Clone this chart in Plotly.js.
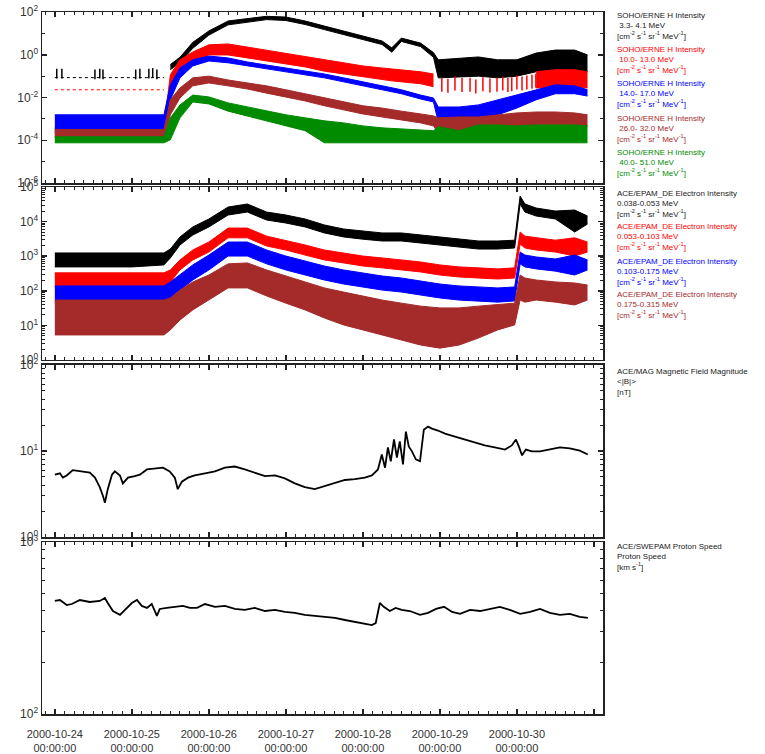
<!DOCTYPE html>
<html><head><meta charset="utf-8">
<script src="https://cdn.plot.ly/plotly-3.0.1.min.js"></script>
<style>body{margin:0;background:#fff}#chart{width:765px;height:754px}</style>
</head><body><div id="chart"></div>
<script>
// ---- times are hours after 2000-10-24 00:00:00 UT ----
// Panel 1: SOHO/ERNE H intensity bands (upper / lower envelope)
const ERNE_H = [0,12,24,34,36,39,43,48,54,60,66,72,78,84,90,96,102,105,108,114,118,119.5,126,132,138,144,150,156,162,166];
const H1_HI = [null,null,null,null,0.35,0.76,3.8,13,38,47,63,58,38,22,12.6,7.6,4.4,2.1,6.0,3.5,1.26,0.58,0.71,0.79,0.58,0.58,1.2,1.66,1.66,0.98];
const H1_LO = [null,null,null,null,0.20,0.44,2.0,8.3,25,32,44,40,26,15,8.9,5.2,3.0,1.32,4.2,2.4,0.76,0.083,0.091,0.10,0.083,0.10,0.16,0.195,0.16,0.16];
const H2_HI = [3.8e-4,3.8e-4,3.8e-4,3.8e-4,0.115,0.58,1.35,2.9,3.2,2.3,1.66,1.2,0.87,0.58,0.42,0.30,0.24,0.22,0.195,0.16,0.126,null,null,null,null,null,0.16,0.2,0.2,0.16];
const H2_LO = [1.45e-4,1.45e-4,1.45e-4,1.45e-4,0.039,0.195,0.46,0.98,0.98,0.71,0.51,0.37,0.27,0.17,0.126,0.091,0.066,0.06,0.054,0.044,0.032,null,null,null,null,null,0.028,0.03,0.03,0.028];
const H3_HI = [0.00155,0.00155,0.00155,0.00155,0.039,0.24,0.58,0.87,0.71,0.46,0.33,0.24,0.17,0.126,0.083,0.054,0.035,0.028,0.023,0.013,0.0095,0.0036,0.0036,0.0045,0.0078,0.013,0.023,0.039,0.035,0.023];
const H3_LO = [0.00022,0.00022,0.00022,0.00022,0.0078,0.083,0.30,0.51,0.42,0.30,0.22,0.16,0.115,0.083,0.054,0.035,0.023,0.018,0.015,0.0085,0.0062,0.00072,0.00072,0.00089,0.00155,0.0032,0.0078,0.015,0.015,0.0117];
const H4_HI = [0.00032,0.00032,0.00032,0.00032,0.0078,0.028,0.083,0.10,0.066,0.048,0.035,0.023,0.015,0.0095,0.0062,0.0041,0.0032,0.0028,0.0023,0.0017,0.00138,0.00112,0.00123,0.00123,0.00155,0.0019,0.0021,0.0021,0.0019,0.00155];
const H4_LO = [0.000129,0.000129,0.000129,0.000129,0.00155,0.0095,0.035,0.048,0.035,0.025,0.016,0.0107,0.0069,0.0041,0.0026,0.0017,0.00123,0.00105,0.00089,0.00065,0.00047,0.00022,0.00025,0.00028,0.00028,0.00038,0.00047,0.00052,0.00047,0.00047];
const H5_HI = [0.000145,0.000145,0.000145,0.000145,0.00112,0.0045,0.013,0.0107,0.0056,0.0036,0.0023,0.00155,0.00112,0.00081,0.00065,0.00047,0.00038,0.00036,0.00034,0.00031,0.00028,0.00043,0.00028,0.00052,0.00052,0.00047,0.00052,0.00052,0.00052,0.00047];
const H5_LO = [0.000076,0.000076,0.000076,0.000076,0.000105,0.00112,0.0062,0.0050,0.0023,0.00138,0.00081,0.00047,0.00028,0.000076,0.000076,0.000076,0.000076,0.000076,0.000076,0.000076,0.000076,0.000076,0.000076,0.000076,0.000076,0.000076,0.000076,0.000076,0.000076,0.000076];
// sparse 3.3-4.1 MeV points before onset, dotted levels, and sparse 10-13 MeV points after the drop
const H1_PRE_H = [0.6,2.2,12.5,14.0,15.0,25.2,26.5,29.3,30.5,31.8];
const H1_PRE_V = [0.13,0.13,0.12,0.13,0.12,0.12,0.13,0.13,0.14,0.12];
const H1_FLOOR_H = [0,34];
const H1_FLOOR_V = [0.085,0.085];
const H2_PRE_H = [0,34];
const H2_PRE_V = [0.023,0.023];
const H2_POST_H = [120.6,122.5,124.7,126.9,129.4,131.2,133.4,135.6,137.8,139.6,141.2,142.4,144.0,145.6,147.1,148.7,149.9];
const H2_POST_V = [0.04,0.035,0.045,0.038,0.04,0.033,0.042,0.036,0.04,0.045,0.038,0.042,0.05,0.045,0.05,0.055,0.06];

// Panel 2: ACE/EPAM_DE electron intensity bands
const EPAM_H = [0,12,24,34,36,39,43,48,54,60,66,72,78,84,90,96,102,108,114,120,126,132,138,143.3,145,146.5,150,156,162,166];
const E1_HI = [1240,1240,1240,1240,1610,3600,7000,11900,26400,32300,18900,15500,11900,8000,6100,5300,4700,4700,4100,3600,3100,2750,2750,2900,55000,32300,24700,20200,21600,14500];
const E1_LO = [490,490,490,560,890,2110,4100,7000,15500,18900,11100,9100,7000,4700,3600,3100,2750,2750,2410,2110,1850,1610,1610,1730,32300,18900,14500,11900,5000,8500];
const E2_HI = [330,330,330,330,400,780,1510,2570,6500,6500,3800,2900,2110,1510,1240,1010,890,780,680,560,490,460,430,460,5000,3800,3400,2900,3400,2570];
const E2_LO = [129,129,129,129,180,400,780,1320,3400,3400,1970,1510,1080,780,640,520,460,400,350,286,251,234,219,234,2250,1730,1510,1320,1010,1320];
const E3_HI = [138,138,138,138,180,286,560,1080,2570,2570,1510,1010,730,520,400,330,268,234,192,157,138,129,121,129,1320,1080,950,830,1080,780];
const E3_LO = [44,44,44,44,62,105,205,400,1010,1010,600,400,286,205,157,129,105,92,76,62,54,51,47,51,600,490,430,370,286,400];
const E4_HI = [54,54,54,54,62,105,180,286,600,640,400,268,180,121,92,71,54,44,36,32,32,36,39,44,286,234,205,180,168,147];
const E4_LO = [5.3,5.3,5.3,5.3,7.4,14.3,28,54,121,121,71,44,28,16.4,10.3,7.4,5.3,3.8,2.7,2.2,2.7,4.3,7.4,10.3,54,47,54,47,39,54];

// Panel 3: ACE/MAG |B| (nT)
const MAG_H = [0,1.6,2.5,3.7,5.6,7.8,10.9,12.5,14.0,15.0,15.6,16.5,17.8,18.7,20.3,21.2,22.8,24.9,26.5,28.7,31.2,33.7,35.8,37.4,38.3,39.6,41.5,43.6,46.8,49.9,53.0,56.1,59.2,62.3,65.5,68.6,71.7,74.8,77.9,81.0,84.2,87.3,90.4,93.5,96.6,98.8,100.7,101.9,102.9,103.8,104.7,105.7,106.6,107.5,108.5,109.4,110.3,111.3,112.5,113.8,115.0,116.3,117.5,119.4,121.6,124.7,127.8,130.9,134.0,137.1,140.3,142.4,143.7,144.6,145.6,146.8,148.7,151.2,154.3,157.4,160.5,163.6,166.1];
const MAG_B = [5.3,5.5,4.9,5.2,6.0,5.8,5.6,4.9,3.8,3.0,2.5,3.6,5.3,5.8,5.2,4.2,4.9,5.1,5.3,6.1,6.3,6.4,5.8,4.9,3.6,4.4,4.9,5.2,5.5,5.8,6.4,6.6,6.1,5.6,5.1,5.2,4.8,4.2,3.8,3.6,3.9,4.3,4.6,4.7,4.9,5.2,6.1,9.1,6.4,11.0,7.6,13.6,8.4,12.9,7.0,16.8,11.3,9.9,8.0,7.6,17.7,19.2,18.2,17.3,15.9,14.7,13.6,12.5,11.6,11.0,10.4,11.6,13.6,11.3,8.9,10.4,9.9,9.9,10.4,11.0,10.7,10.1,9.1];

// Panel 4: ACE/SWEPAM proton speed (km/s)
const SWE_H = [0,1.6,3.7,5.3,7.8,10.9,14.0,15.6,16.5,18.1,20.3,22.4,24.0,25.6,27.1,28.7,30.2,31.8,32.7,34.9,37.4,39.9,42.1,44.3,46.8,49.9,53.0,56.1,59.2,62.3,65.5,68.6,71.7,74.8,77.9,81.0,84.2,87.3,90.4,93.5,96.6,98.8,100.0,101.3,102.5,104.4,106.2,108.1,110.6,113.8,116.3,118.8,121.3,123.8,126.3,129.4,132.5,135.6,138.7,141.8,145.0,148.1,151.2,154.3,157.4,160.5,163.6,166.1];
const SWE_V = [454,460,430,436,460,448,454,472,442,397,377,414,442,460,425,414,436,372,408,414,420,425,414,414,436,420,425,408,403,414,397,403,392,387,377,372,367,362,352,343,333,329,338,442,420,397,414,403,397,377,387,408,420,392,382,403,397,408,420,403,382,392,408,387,377,382,367,362];

// axis ticks
const X_TICKS = ['2000-10-24','2000-10-25','2000-10-26','2000-10-27','2000-10-28','2000-10-29','2000-10-30','2000-10-31'];
const X_LABELS = ['2000-10-24<br>00:00:00','2000-10-25<br>00:00:00','2000-10-26<br>00:00:00','2000-10-27<br>00:00:00','2000-10-28<br>00:00:00','2000-10-29<br>00:00:00','2000-10-30<br>00:00:00',''];
const Y1_TICKS = [1e-6,1e-4,1e-2,1,100];
const Y1_LABELS = ['10<sup>-6</sup>','10<sup>-4</sup>','10<sup>-2</sup>','10<sup>0</sup>','10<sup>2</sup>'];
const Y2_TICKS = [1,10,100,1000,1e4,1e5];
const Y2_LABELS = ['10<sup>0</sup>','10<sup>1</sup>','10<sup>2</sup>','10<sup>3</sup>','10<sup>4</sup>','10<sup>5</sup>'];
const Y3_TICKS = [1,10,100];
const Y3_LABELS = ['10<sup>0</sup>','10<sup>1</sup>','10<sup>2</sup>'];
const Y4_TICKS = [100,1000];
const Y4_LABELS = ['10<sup>2</sup>','10<sup>3</sup>'];

const T0 = Date.UTC(2000,9,24);
function dt(hours){ return hours.map(h => new Date(T0 + h*3600000).toISOString().slice(0,19).replace('T',' ')); }
function decadeMinors(lo, hi){ const v=[]; for(let e=lo;e<hi;e++){ for(let k=2;k<=9;k++) v.push(k*Math.pow(10,e)); } return v; }

const traces = [];
function band(hours, hi, lo, color, xa, ya){
  const t = dt(hours);
  let seg = null; const segs = [];
  for(let i=0;i<t.length;i++){
    if(hi[i]==null || lo[i]==null){ if(seg){segs.push(seg); seg=null;} continue; }
    if(!seg) seg={x:[],hi:[],lo:[]};
    seg.x.push(t[i]); seg.hi.push(hi[i]); seg.lo.push(lo[i]);
  }
  if(seg) segs.push(seg);
  segs.forEach(s => {
    traces.push({x:s.x, y:s.lo, xaxis:xa, yaxis:ya, mode:'lines', line:{color:color, width:1}, hoverinfo:'skip', showlegend:false});
    traces.push({x:s.x, y:s.hi, xaxis:xa, yaxis:ya, mode:'lines', fill:'tonexty', fillcolor:color, line:{color:color, width:1}, hoverinfo:'skip', showlegend:false});
  });
}
function sticks(hours, vals, color, xa, ya, size){
  traces.push({x:dt(hours), y:vals, xaxis:xa, yaxis:ya, mode:'markers', marker:{symbol:'line-ns', size:size, line:{color:color, width:1.5}}, showlegend:false, hoverinfo:'skip'});
}

const BLACK='#000000', RED='#ff0000', BLUE='#0000ff', BROWN='#a52a2a', GREEN='#008b00';

// panel 1
traces.push({x:dt(H1_FLOOR_H), y:H1_FLOOR_V, xaxis:'x', yaxis:'y', mode:'lines', line:{color:BLACK, width:1, dash:'dot'}, showlegend:false, hoverinfo:'skip'});
sticks(H1_PRE_H, H1_PRE_V, BLACK, 'x', 'y', 7);
traces.push({x:dt(H2_PRE_H), y:H2_PRE_V, xaxis:'x', yaxis:'y', mode:'lines', line:{color:RED, width:1, dash:'dot'}, showlegend:false, hoverinfo:'skip'});
band(ERNE_H, H1_HI, H1_LO, BLACK, 'x', 'y');
band(ERNE_H, H2_HI, H2_LO, RED, 'x', 'y');
sticks(H2_POST_H, H2_POST_V, RED, 'x', 'y', 10);
band(ERNE_H, H3_HI, H3_LO, BLUE, 'x', 'y');
band(ERNE_H, H4_HI, H4_LO, BROWN, 'x', 'y');
band(ERNE_H, H5_HI, H5_LO, GREEN, 'x', 'y');
// panel 2
band(EPAM_H, E1_HI, E1_LO, BLACK, 'x2', 'y2');
band(EPAM_H, E2_HI, E2_LO, RED, 'x2', 'y2');
band(EPAM_H, E3_HI, E3_LO, BLUE, 'x2', 'y2');
band(EPAM_H, E4_HI, E4_LO, BROWN, 'x2', 'y2');
// panel 3, 4
traces.push({x:dt(MAG_H), y:MAG_B, xaxis:'x3', yaxis:'y3', mode:'lines', line:{color:BLACK, width:1.8}, showlegend:false, hoverinfo:'skip'});
traces.push({x:dt(SWE_H), y:SWE_V, xaxis:'x4', yaxis:'y4', mode:'lines', line:{color:BLACK, width:1.8}, showlegend:false, hoverinfo:'skip'});

const AX = '#222';
function xax(anchor, labels){
  return {type:'date', range:['2000-10-23 20:00:00','2000-10-31 02:50:00'], anchor:anchor, domain:[0,1],
    showline:true, linecolor:AX, linewidth:1.5, mirror:'ticks', ticks:'inside', ticklen:5, tickwidth:1.5, tickcolor:AX,
    tickmode:'array', tickvals:X_TICKS, ticktext:X_LABELS, showticklabels:labels, ticklabelstandoff:9,
    tickfont:{size:11, color:'#333'}, showgrid:false, zeroline:false,
    minor:{tickmode:'linear', tick0:'2000-10-24', dtick:3*3600000, ticks:'inside', ticklen:3, tickwidth:1, tickcolor:AX, showgrid:false},
    matches: anchor==='y4'?undefined:'x4'};
}
function yax(anchor, dom, rng, tv, tt, minors){
  return {type:'log', range:rng, domain:dom, anchor:anchor,
    showline:true, linecolor:AX, linewidth:1.5, mirror:'ticks', ticks:'inside', ticklen:5, tickwidth:1.5, tickcolor:AX,
    tickmode:'array', tickvals:tv, ticktext:tt, tickfont:{size:12, color:'#333'}, showgrid:false, zeroline:false,
    minor:{tickmode:'array', tickvals:minors, ticks:'inside', ticklen:3, tickwidth:1, tickcolor:AX, showgrid:false}};
}

function note(txt, color, ypix){
  return {text:txt, xref:'paper', yref:'paper', x:1.0214, y:(714-ypix)/702, xanchor:'left', yanchor:'top', align:'left',
    showarrow:false, font:{size:8, color:color, family:'Liberation Sans, Arial, sans-serif'}};
}
const UNIT = '[cm<sup>-2</sup> s<sup>-1</sup> sr<sup>-1</sup> MeV<sup>-1</sup>]';
const annotations = [
  note('SOHO/ERNE H Intensity<br>\u00a03.3- 4.1 MeV<br>'+UNIT, '#222', 9),
  note('SOHO/ERNE H Intensity<br>\u00a010.0- 13.0 MeV<br>'+UNIT, RED, 43),
  note('SOHO/ERNE H Intensity<br>\u00a014.0- 17.0 MeV<br>'+UNIT, BLUE, 77),
  note('SOHO/ERNE H Intensity<br>\u00a026.0- 32.0 MeV<br>'+UNIT, BROWN, 112),
  note('SOHO/ERNE H Intensity<br>\u00a040.0- 51.0 MeV<br>'+UNIT, GREEN, 146),
  note('ACE/EPAM_DE Electron Intensity<br>0.038-0.053 MeV<br>'+UNIT, '#222', 187),
  note('ACE/EPAM_DE Electron Intensity<br>0.053-0.103 MeV<br>'+UNIT, RED, 220),
  note('ACE/EPAM_DE Electron Intensity<br>0.103-0.175 MeV<br>'+UNIT, BLUE, 255),
  note('ACE/EPAM_DE Electron Intensity<br>0.175-0.315 MeV<br>'+UNIT, BROWN, 288),
  note('ACE/MAG Magnetic Field Magnitude<br>&lt;|B|&gt;<br>[nT]', '#222', 365),
  note('ACE/SWEPAM Proton Speed<br>Proton Speed<br>[km s<sup>-1</sup>]', '#222', 540)
];

const layout = {
  width:765, height:754, margin:{l:42, r:162, t:12, b:40, pad:0},
  paper_bgcolor:'#ffffff', plot_bgcolor:'#ffffff', showlegend:false,
  font:{family:'Liberation Sans, Arial, sans-serif', size:11, color:'#333'},
  xaxis: xax('y', false), xaxis2: xax('y2', false), xaxis3: xax('y3', false), xaxis4: xax('y4', true),
  yaxis: yax('x', [0.7564,1], [-6,2], Y1_TICKS, Y1_LABELS, [1e-5,1e-3,1e-1,10]),
  yaxis2: yax('x2', [0.5043,0.7507], [0,5], Y2_TICKS, Y2_LABELS, decadeMinors(0,5)),
  yaxis3: yax('x3', [0.2521,0.4972], [0,2], Y3_TICKS, Y3_LABELS, decadeMinors(0,2)),
  yaxis4: yax('x4', [0,0.245], [2,3], Y4_TICKS, Y4_LABELS, decadeMinors(2,3)),
  annotations: annotations
};
Plotly.newPlot('chart', traces, layout, {staticPlot:true, displayModeBar:false});
</script></body></html>
